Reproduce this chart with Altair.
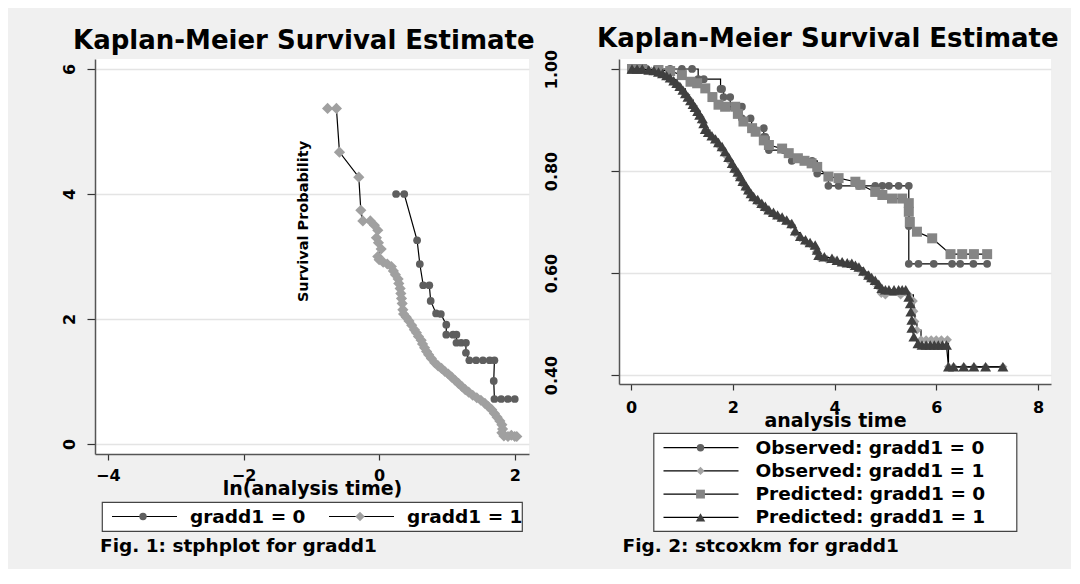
import altair as alt
import pandas as pd

FONT = "DejaVu Sans"
BG = "#f0f0f0"

# ---------------- Fig. 1 : stphplot (-ln(-ln S) vs ln t) ----------------
left_series = ["gradd1 = 0", "gradd1 = 1"]
left_colors = ["#5e5e5e", "#a0a0a0"]
left_shapes = ["circle", "diamond"]
left_sizes = [60, 125]

l0_x = [0.25, 0.37, 0.56, 0.60, 0.65, 0.74, 0.76, 0.84, 0.91, 0.99, 0.99, 1.09, 1.14,
        1.14, 1.21, 1.28, 1.28, 1.33, 1.43, 1.53, 1.63, 1.70, 1.69, 1.70, 1.80, 1.90, 2.00]
l0_y = [4.00, 4.00, 3.26, 2.88, 2.54, 2.54, 2.29, 2.09, 2.08, 1.91, 1.75, 1.75, 1.75,
        1.62, 1.62, 1.62, 1.46, 1.34, 1.34, 1.34, 1.34, 1.34, 1.01, 0.72, 0.72, 0.72, 0.72]

l1_x = [-0.76, -0.63, -0.585, -0.30, -0.27, -0.24, -0.13, -0.07, -0.02, -0.04, -0.01, 0.03,
        -0.02, 0.00, 0.06, 0.12, 0.18, 0.21, 0.24, 0.28, 0.29, 0.31, 0.32, 0.33, 0.34, 0.35,
        0.36, 0.40, 0.44, 0.48, 0.52, 0.55, 0.58, 0.62, 0.64, 0.67, 0.70, 0.73, 0.77, 0.82,
        0.87, 0.92, 0.97, 1.02, 1.07, 1.12, 1.17, 1.22, 1.27, 1.32, 1.38, 1.44, 1.50, 1.56,
        1.61, 1.66, 1.70, 1.74, 1.78, 1.81, 1.82, 1.81, 1.84, 1.90, 1.95, 2.00, 2.03]
l1_y = [5.37, 5.37, 4.67, 4.27, 3.74, 3.57, 3.57, 3.50, 3.42, 3.30, 3.22, 3.12,
        3.00, 2.95, 2.91, 2.88, 2.84, 2.77, 2.71, 2.64, 2.57, 2.49, 2.41, 2.33, 2.25, 2.15,
        2.08, 2.03, 1.97, 1.90, 1.83, 1.78, 1.72, 1.66, 1.60, 1.54, 1.48, 1.43, 1.37, 1.30,
        1.25, 1.21, 1.16, 1.12, 1.07, 1.02, 0.97, 0.92, 0.87, 0.83, 0.78, 0.74, 0.70, 0.65,
        0.60, 0.55, 0.49, 0.43, 0.37, 0.31, 0.24, 0.18, 0.13, 0.12, 0.14, 0.12, 0.12]

# ---------------- Fig. 2 : stcoxkm (observed vs predicted) ----------------
right_series = ["Observed: gradd1 = 0", "Observed: gradd1 = 1",
                "Predicted: gradd1 = 0", "Predicted: gradd1 = 1"]
right_colors = ["#606060", "#a3a3a3", "#858585", "#3f3f3f"]
right_shapes = ["circle", "diamond", "square", "triangle-up"]
right_sizes = [60, 120, 70, 115]

obs0_t = [0.02, 0.30, 0.77, 1.00, 1.20, 1.32, 1.43, 1.76, 1.79, 1.82, 1.95, 1.95, 2.18,
          2.18, 2.35, 2.37, 2.41, 2.61, 2.61, 2.64, 2.71, 3.00, 3.16, 3.56, 3.66, 3.88,
          4.08, 4.48, 4.80, 4.94, 5.07, 5.26, 5.46, 5.46, 5.46, 5.65, 5.95, 6.31, 6.47,
          6.73, 7.00]
obs0_s = [1.000, 1.000, 1.000, 1.000, 1.000, 0.980, 0.980, 0.961, 0.961, 0.945, 0.945, 0.926, 0.926,
          0.903, 0.903, 0.884, 0.884, 0.884, 0.867, 0.867, 0.841, 0.841, 0.820, 0.820, 0.795, 0.771,
          0.771, 0.771, 0.771, 0.771, 0.771, 0.771, 0.771, 0.692, 0.618, 0.618, 0.618, 0.618, 0.618,
          0.618, 0.618]

obs1_t = [0.02, 0.22, 0.40, 0.54, 0.66, 0.77, 0.88, 0.98, 1.07, 1.15, 1.22, 1.29, 1.36, 1.42,
          1.47, 1.55, 1.63, 1.71, 1.78, 1.86, 1.93, 2.00, 2.07, 2.13, 2.19, 2.25, 2.31, 2.38,
          2.46, 2.55, 2.63, 2.72, 2.82, 2.92, 3.03, 3.14, 3.22, 3.32, 3.43, 3.55, 3.64, 3.70,
          3.85, 4.00, 4.15, 4.30, 4.45, 4.55, 4.65, 4.75, 4.85, 4.92, 5.00, 5.30, 5.46, 5.55,
          5.56, 5.58, 5.62, 5.70, 5.80, 5.90, 6.00, 6.10, 6.22, 6.24, 6.34, 6.54, 6.74, 6.97, 7.31]
obs1_s = [1.000, 1.000, 0.996, 0.992, 0.986, 0.979, 0.970, 0.961, 0.950, 0.940, 0.928, 0.918, 0.906, 0.894,
          0.880, 0.870, 0.862, 0.852, 0.843, 0.831, 0.820, 0.808, 0.797, 0.786, 0.775, 0.765, 0.757, 0.749,
          0.741, 0.733, 0.726, 0.719, 0.713, 0.708, 0.702, 0.694, 0.679, 0.669, 0.661, 0.654, 0.641, 0.630,
          0.627, 0.624, 0.620, 0.617, 0.610, 0.602, 0.592, 0.584, 0.574, 0.560, 0.557, 0.557, 0.557, 0.545,
          0.525, 0.505, 0.488, 0.469, 0.469, 0.469, 0.469, 0.469, 0.469, 0.416, 0.416, 0.416, 0.416, 0.416, 0.416]

pred0_t = [0.02, 0.22, 0.54, 0.77, 1.00, 1.17, 1.30, 1.46, 1.60, 1.72, 1.85, 2.05, 2.10, 2.21,
           2.38, 2.45, 2.61, 2.71, 2.97, 3.10, 3.28, 3.41, 3.55, 3.66, 3.88, 4.08, 4.41, 4.51,
           4.80, 4.94, 5.13, 5.33, 5.46, 5.46, 5.48, 5.62, 5.92, 6.28, 6.51, 6.74, 7.00]
pred0_s = [1.000, 1.000, 0.998, 0.996, 0.988, 0.975, 0.972, 0.962, 0.945, 0.930, 0.926, 0.926, 0.912, 0.897,
           0.884, 0.877, 0.860, 0.851, 0.844, 0.835, 0.825, 0.820, 0.815, 0.808, 0.789, 0.786, 0.779, 0.773,
           0.759, 0.753, 0.746, 0.746, 0.737, 0.720, 0.700, 0.681, 0.668, 0.637, 0.637, 0.637, 0.637]

pred1_t = [0.02, 0.12, 0.22, 0.35, 0.45, 0.54, 0.62, 0.70, 0.77, 0.84, 0.90, 0.96, 1.02, 1.07,
           1.12, 1.17, 1.22, 1.26, 1.31, 1.35, 1.40, 1.43, 1.46, 1.52, 1.59, 1.66, 1.72, 1.79,
           1.85, 1.92, 1.99, 2.04, 2.10, 2.15, 2.20, 2.26, 2.31, 2.36, 2.41, 2.49, 2.57, 2.64,
           2.71, 2.80, 2.88, 2.97, 3.06, 3.16, 3.23, 3.33, 3.43, 3.52, 3.62, 3.66, 3.69, 3.80,
           3.95, 4.05, 4.15, 4.25, 4.34, 4.41, 4.48, 4.57, 4.67, 4.73, 4.80, 4.87, 4.93, 5.00,
           5.07, 5.17, 5.26, 5.33, 5.40, 5.46, 5.49, 5.50, 5.52, 5.52, 5.56, 5.64, 5.72, 5.80,
           5.88, 5.96, 6.04, 6.12, 6.20, 6.24, 6.34, 6.54, 6.74, 6.97, 7.31]
pred1_s = [1.000, 1.000, 1.000, 0.998, 0.997, 0.994, 0.991, 0.987, 0.983, 0.977, 0.972, 0.966, 0.959, 0.952,
           0.945, 0.938, 0.931, 0.925, 0.917, 0.910, 0.903, 0.893, 0.882, 0.876, 0.869, 0.863, 0.856, 0.848,
           0.838, 0.827, 0.815, 0.806, 0.798, 0.789, 0.780, 0.771, 0.763, 0.756, 0.750, 0.744, 0.737, 0.731,
           0.724, 0.719, 0.714, 0.710, 0.704, 0.697, 0.683, 0.672, 0.665, 0.660, 0.655, 0.645, 0.635, 0.632,
           0.629, 0.625, 0.622, 0.620, 0.619, 0.615, 0.612, 0.604, 0.596, 0.591, 0.586, 0.578, 0.570, 0.567,
           0.567, 0.567, 0.567, 0.567, 0.567, 0.553, 0.540, 0.524, 0.508, 0.492, 0.475, 0.462, 0.459, 0.459,
           0.459, 0.459, 0.459, 0.459, 0.459, 0.416, 0.416, 0.416, 0.416, 0.416, 0.416]


def frame(xs, ys, name):
    return pd.DataFrame({"x": xs, "y": ys, "series": name, "idx": range(len(xs))})


left_df = pd.concat([frame(l0_x, l0_y, left_series[0]), frame(l1_x, l1_y, left_series[1])],
                    ignore_index=True)
right_df = pd.concat([frame(obs0_t, obs0_s, right_series[0]), frame(obs1_t, obs1_s, right_series[1]),
                      frame(pred0_t, pred0_s, right_series[2]), frame(pred1_t, pred1_s, right_series[3])],
                     ignore_index=True)

common_axis = dict(domainColor="#555555", domainWidth=1.5, tickColor="#333333", tickWidth=1.2,
                   labelFont=FONT, labelFontWeight="bold", labelColor="black", labelFlush=False,
                   labelOverlap=False, titleFont=FONT, titleFontWeight="bold", titleColor="black")

INDEP = dict(color="independent", shape="independent", size="independent")


def style_scales(domain, colors, shapes, sizes):
    c = alt.Color("series:N", scale=alt.Scale(domain=domain, range=colors), legend=None)
    s = alt.Shape("series:N", scale=alt.Scale(domain=domain, range=shapes), legend=None)
    z = alt.Size("series:N", scale=alt.Scale(domain=domain, range=sizes), legend=None)
    return c, s, z


def panel_title(shift):
    return alt.TitleParams("Kaplan-Meier Survival Estimate", anchor="start", frame="group", dx=-22,
                           dy=shift, offset=9, baseline="alphabetic", font=FONT, fontSize=26,
                           fontWeight="bold", color="black")


# ---------------- left panel ----------------
xl = alt.X("x:Q", scale=alt.Scale(domain=[-4.19, 2.21], nice=False, zero=False),
           axis=alt.Axis(values=[-4, -2, 0, 2], grid=False, tickSize=6, labelFontSize=16,
                         labelPadding=7, title="ln(analysis time)", titleFontSize=19,
                         titleY=34, titleBaseline="middle", **common_axis))
yl = alt.Y("y:Q", scale=alt.Scale(domain=[-0.16, 6.16], nice=False, zero=False),
           axis=alt.Axis(values=[0, 2, 4, 6], grid=True, gridColor="#e4e4e4", gridWidth=1.5,
                         tickSize=8, labelAngle=270, labelAlign="center", labelBaseline="bottom",
                         labelFontSize=16, labelPadding=10, title="Survival Probability",
                         titleFontSize=14.5, titleAngle=270, titleAlign="center",
                         titleBaseline="middle", titleX=208, titleY=162, **common_axis))
cl, sl, zl = style_scales(left_series, left_colors, left_shapes, left_sizes)

left_layers = []
for name in left_series:
    base = alt.Chart(left_df).transform_filter(alt.datum.series == name)
    left_layers.append(base.mark_line(color="black", strokeWidth=1.2)
                       .encode(x=xl, y=yl, detail="series:N", order="idx:Q"))
    left_layers.append(base.mark_point(filled=True, opacity=1, strokeWidth=0)
                       .encode(x=xl, y=yl, color=cl, shape=sl, size=zl))
left_panel = alt.layer(*left_layers).properties(
    width=434, height=395, title=panel_title(25),
    view=alt.ViewBackground(fill="white", stroke=None))

# ---------------- right panel ----------------
xr = alt.X("x:Q", scale=alt.Scale(domain=[-0.236, 8.255], nice=False, zero=False),
           axis=alt.Axis(values=[0, 2, 4, 6, 8], grid=False, tickSize=6, labelFontSize=16,
                         labelPadding=9, title="analysis time", titleFontSize=19,
                         titleY=36, titleBaseline="middle", **common_axis))
yr = alt.Y("y:Q", scale=alt.Scale(domain=[0.3824, 1.0196], nice=False, zero=False),
           axis=alt.Axis(values=[0.4, 0.6, 0.8, 1.0], format=".2f", grid=True, gridColor="#e4e4e4",
                         gridWidth=1.5, tickSize=8, labelAngle=270, labelAlign="center",
                         labelBaseline="bottom", labelFontSize=16, labelPadding=52, title=None,
                         **common_axis))
cr, sr, zr = style_scales(right_series, right_colors, right_shapes, right_sizes)

right_layers = []
for name in right_series:
    base = alt.Chart(right_df).transform_filter(alt.datum.series == name)
    interp = "step-after" if name.startswith("Observed") else "linear"
    right_layers.append(base.mark_line(color="black", strokeWidth=1.2, interpolate=interp)
                        .encode(x=xr, y=yr, detail="series:N", order="idx:Q"))
    right_layers.append(base.mark_point(filled=True, opacity=1, strokeWidth=0)
                        .encode(x=xr, y=yr, color=cr, shape=sr, size=zr))
right_panel = alt.layer(*right_layers).properties(
    width=432, height=325, title=panel_title(33),
    view=alt.ViewBackground(fill="white", stroke=None))


# ---------------- legend boxes ----------------
def legend_box(labels, colors, shapes, sizes, cols, rows, width, height, col_range, row_range,
               line_from, line_to, marker_at, text_at, caption, caption_dx):
    df = pd.DataFrame({"series": labels, "col": cols, "row": rows})
    lx = alt.X("col:Q", scale=alt.Scale(domain=[0, 1], range=col_range), axis=None)
    ly = alt.Y("row:Q", scale=alt.Scale(domain=[0, max(1, max(rows))], range=row_range), axis=None)
    c, s, z = style_scales(labels, colors, shapes, sizes)
    rule = alt.Chart(df).mark_rule(color="black", strokeWidth=1.2, xOffset=line_from,
                                   x2Offset=line_to).encode(x=lx, x2="col:Q", y=ly)
    pts = alt.Chart(df).mark_point(filled=True, opacity=1, strokeWidth=0, xOffset=marker_at).encode(
        x=lx, y=ly, color=c, shape=s, size=z)
    txt = alt.Chart(df).mark_text(align="left", baseline="middle", xOffset=text_at, font=FONT,
                                  fontSize=18.5, fontWeight="bold", color="black").encode(
        x=lx, y=ly, text="series:N")
    return alt.layer(rule, pts, txt).properties(
        width=width, height=height,
        view=alt.ViewBackground(fill="white", stroke="#444444", strokeWidth=1.2),
        title=alt.TitleParams(caption, orient="bottom", anchor="start", frame="group",
                              dx=caption_dx, offset=6, baseline="top", font=FONT, fontSize=18.5,
                              fontWeight="bold", color="black"))


left_legend = legend_box(left_series, left_colors, left_shapes, [55, 90], [0, 1], [0, 0],
                         420, 29, [0, 217], [14.5, 38], 10, 75, 41, 88,
                         "Fig. 1: stphplot for gradd1", -2)
right_legend = legend_box(right_series, right_colors, right_shapes, [55, 90, 60, 80], [0, 0, 0, 0],
                          [0, 1, 2, 3], 363, 98, [0, 1], [14.7, 84.3], 10, 85, 47, 102,
                          "Fig. 2: stcoxkm for gradd1", -31)

left_col = alt.vconcat(left_panel, left_legend, spacing=48, center=True,
                       bounds="flush").resolve_scale(**INDEP)
right_col = alt.vconcat(right_panel, right_legend, spacing=49, center=True,
                        bounds="flush").resolve_scale(**INDEP)

chart = alt.hconcat(left_col, right_col, spacing=7).resolve_scale(**INDEP).properties(
    padding={"left": 53, "top": 18, "right": 12, "bottom": 12}
).configure(background=BG).configure_view(stroke=None)

chart.save("out.html", embed_options={"renderer": "svg", "actions": False})
